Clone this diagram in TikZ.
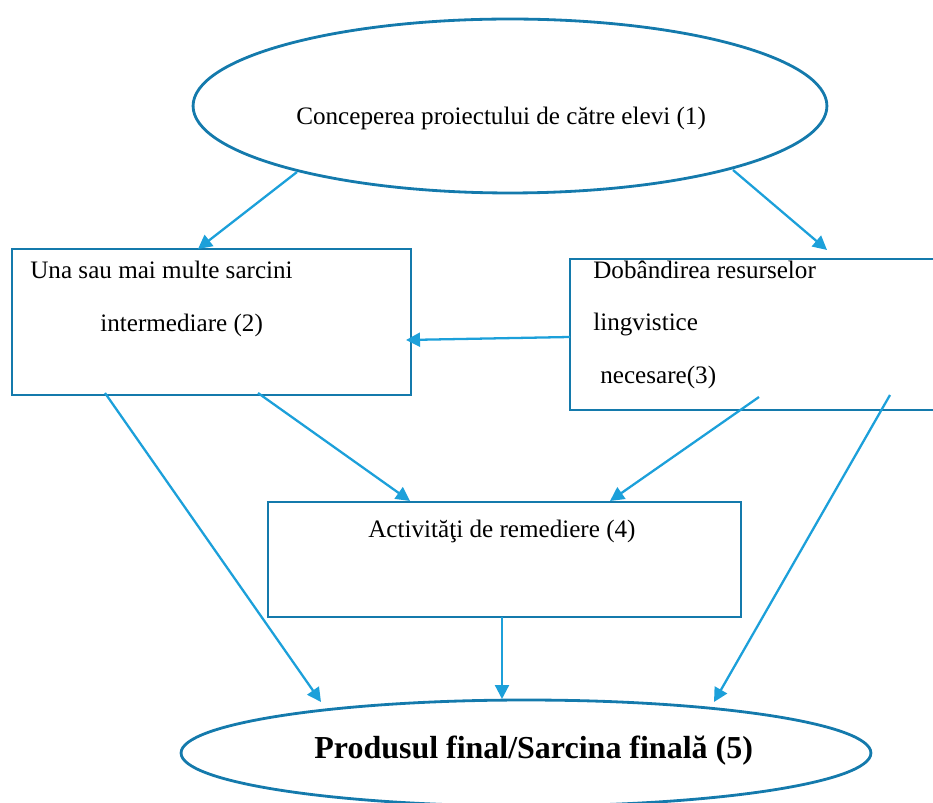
\documentclass[tikz,border=0pt]{standalone}
\usepackage{fontspec}
\setmainfont{Liberation Serif}
\usetikzlibrary{arrows.meta,shapes.geometric}
\definecolor{framecol}{RGB}{20,122,172}
\definecolor{arrowcol}{RGB}{28,160,218}
\tikzset{
  frame/.style={draw=framecol,line width=1.6pt,inner sep=0pt},
  box/.style={frame,rectangle},
  oval/.style={frame,ellipse},
  arr/.style={draw=arrowcol,line width=1.3pt,-{Triangle[length=0.28cm,width=0.28cm]}},
  txt/.style={inner sep=0pt,anchor=base west,font=\fontsize{14.3}{17}\selectfont},
}
\begin{document}
\begin{tikzpicture}[x=0.02cm,y=-0.02cm]
  \useasboundingbox (0,0) rectangle (933,803);
  % shapes
  \node[oval,minimum width=12.68cm,minimum height=3.48cm] (proiect) at (510,106) {};
  \node[box,minimum width=7.98cm,minimum height=2.92cm] (sarcini) at (211.5,322) {};
  \node[box,minimum width=7.5cm,minimum height=3.02cm] (resurse) at (757.5,334.5) {};
  \node[box,minimum width=9.46cm,minimum height=2.3cm] (remediere) at (504.5,559.5) {};
  \node[oval,minimum width=13.8cm,minimum height=2.12cm] (produs) at (526,753) {};
  % texts
  \node[txt] (tproiect) at (296,125) {Conceperea proiectului de către elevi (1)};
  \node[txt] (tsarcinia) at (30,279) {Una sau mai multe sarcini};
  \node[txt] (tsarcinib) at (100,332) {intermediare (2)};
  \node[txt] (tresursea) at (593,279) {Dobândirea resurselor};
  \node[txt] (tresurseb) at (593,331) {lingvistice};
  \node[txt] (tresursec) at (600,384) {necesare(3)};
  \node[txt] (tremediere) at (368,538) {Activităţi de remediere (4)};
  \node[txt,font=\fontsize{18.2}{22}\selectfont\bfseries] (tprodus) at (314,758) {Produsul final/Sarcina finală (5)};
  % arrow ends
  \coordinate (p1) at (297,172);
  \coordinate (p2) at (733,170);
  \coordinate (s1) at (198,249);
  \coordinate (r1) at (827,250);
  \coordinate (r2) at (570,337);
  \coordinate (s2) at (406,340);
  \coordinate (s3) at (258,393);
  \coordinate (m1) at (410,501);
  \coordinate (r3) at (759,397);
  \coordinate (m2) at (610,501);
  \coordinate (s4) at (105,393);
  \coordinate (f1) at (321,702);
  \coordinate (r4) at (890,395);
  \coordinate (f2) at (714,702);
  \coordinate (m3) at (502,617);
  \coordinate (f3) at (502,699);
  % connectors
  \draw[arr] (p1) -- (s1);
  \draw[arr] (p2) -- (r1);
  \draw[arr] (r2) -- (s2);
  \draw[arr] (s3) -- (m1);
  \draw[arr] (r3) -- (m2);
  \draw[arr] (s4) -- (f1);
  \draw[arr] (r4) -- (f2);
  \draw[arr] (m3) -- (f3);
\end{tikzpicture}
\end{document}
